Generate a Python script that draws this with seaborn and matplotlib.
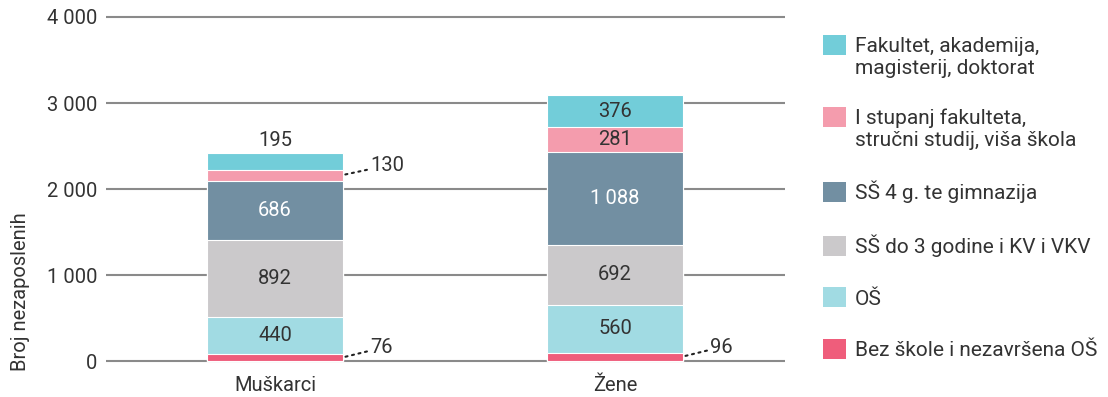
import matplotlib
matplotlib.use("Agg")
import matplotlib.pyplot as plt
from matplotlib.patches import Patch, Rectangle
from matplotlib.legend_handler import HandlerPatch
import seaborn as sns
import pandas as pd
import numpy as np

# Data: unemployed persons by education level and sex
groups = ["Muškarci", "Žene"]
levels = [
    "Bez škole i nezavršena OŠ",
    "OŠ",
    "SŠ do 3 godine i KV i VKV",
    "SŠ 4 g. te gimnazija",
    "I stupanj fakulteta,\nstručni studij, viša škola",
    "Fakultet, akademija,\nmagisterij, doktorat",
]
muskarci = [76, 440, 892, 686, 130, 195]
zene = [96, 560, 692, 1088, 281, 376]
colors = ["#EF5D7B", "#A1DBE3", "#CBC9CB", "#728FA2", "#F49CAD", "#72CDD9"]
text_colors = ["#333333", "#333333", "#333333", "#FFFFFF", "#333333", "#333333"]
yticks = [0, 1000, 2000, 3000, 4000]
ytick_labels = ["0", "1 000", "2 000", "3 000", "4 000"]

sns.set_style("white")
plt.rcParams["font.family"] = ["Roboto", "DejaVu Sans"]

FS = 14.5

fig = plt.figure(figsize=(11.08, 3.97), dpi=100)
ax = fig.add_axes([0.0957, 0.0841, 0.6128, 0.8796])

vals = np.array([muskarci, zene])          # shape (groups, levels)
cum = np.cumsum(vals, axis=1)

# Draw stacked bars as cumulative totals, topmost layer first
for i in range(len(levels) - 1, -1, -1):
    df = pd.DataFrame({"grupa": groups, "total": cum[:, i]})
    sns.barplot(data=df, x="grupa", y="total", color=colors[i], width=0.4,
                saturation=1, edgecolor="white", linewidth=0.8, ax=ax,
                zorder=2)

# Value labels
bw = 0.4
for g in range(len(groups)):
    for i in range(len(levels)):
        v = vals[g, i]
        bottom = cum[g, i] - v
        mid = bottom + v / 2
        if v < 150:
            # small segments: label to the right with a dotted leader
            x0 = g + bw / 2 - 0.005
            y0 = mid
            ax.annotate(f"{v}", xy=(x0, y0), xytext=(x0 + 0.085, y0 + 115),
                        fontsize=FS, color="#333333", va="center", ha="left",
                        arrowprops=dict(arrowstyle="-", linestyle=(0, (1, 2.2)),
                                        color="#222222", lw=1.5,
                                        shrinkA=0, shrinkB=0))
        elif v < 230 and i == len(levels) - 1 and g == 0:
            ax.text(g, cum[g, i] + 40, f"{v}", ha="center", va="bottom",
                    fontsize=FS, color="#333333")
        else:
            lab = f"{v:,}".replace(",", "\u2009")
            ax.text(g, mid, lab, ha="center", va="center", fontsize=FS,
                    color=text_colors[i])

ax.set_xlim(-0.497, 1.5)
ax.set_ylim(-30, 4030)
ax.set_yticks(yticks)
ax.set_yticklabels(ytick_labels)
ax.yaxis.grid(True, color="#8a8a8a", linewidth=1.5, zorder=0)
ax.set_axisbelow(True)
sns.despine(ax=ax, left=True, bottom=True)
ax.tick_params(axis="both", length=0, labelsize=FS, labelcolor="#333333")
ax.tick_params(axis="y", pad=6)
ax.tick_params(axis="x", pad=9)
ax.set_xlabel("")
ax.set_ylabel("Broj nezaposlenih", fontsize=14.5, color="#333333", loc="bottom")
ax.yaxis.set_label_coords(-0.112, -0.02)


class TopAlignedPatch(HandlerPatch):
    """Square legend key aligned with the first line of a wrapped label."""

    def __init__(self, shift=0.0):
        super().__init__()
        self.shift = shift

    def create_artists(self, legend, orig_handle, xdescent, ydescent,
                       width, height, fontsize, trans):
        p = Rectangle((-xdescent, -ydescent + self.shift * fontsize),
                      width, height, facecolor=orig_handle.get_facecolor(),
                      edgecolor="none", transform=trans)
        return [p]


handles = [Patch(facecolor=c, edgecolor="none") for c in colors[::-1]]
labels = levels[::-1]
hmap = {h: TopAlignedPatch(0.6 if "\n" in lab else 0.0)
        for h, lab in zip(handles, labels)}
fig.legend(handles, labels, loc="upper left", handler_map=hmap,
           bbox_to_anchor=(0.726, 0.955), frameon=False, fontsize=15,
           handlelength=1.1, handleheight=1.1, handletextpad=0.43,
           labelspacing=1.48, labelcolor="#333333")

fig.savefig("out.png", dpi=100)
